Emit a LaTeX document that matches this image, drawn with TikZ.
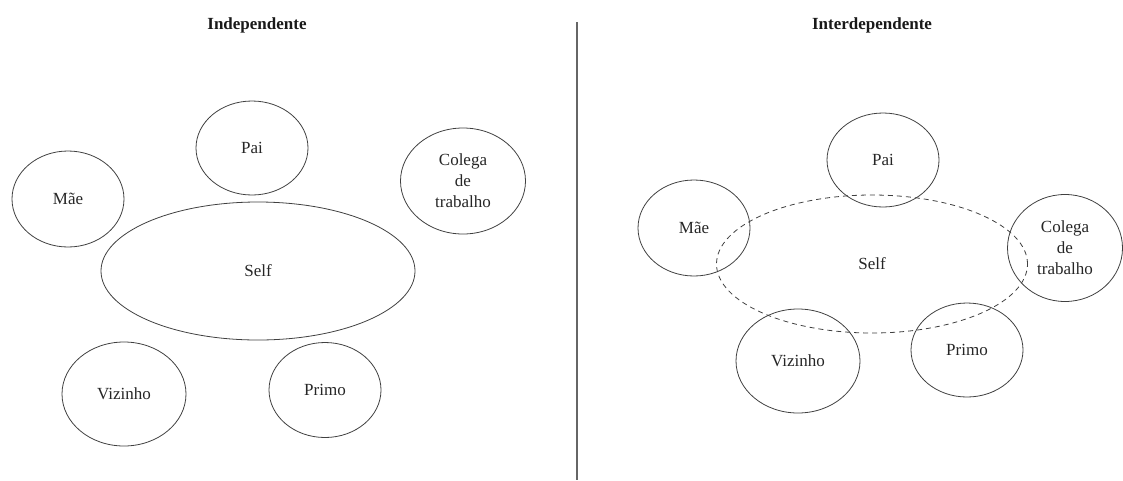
\documentclass[tikz,border=0pt]{standalone}
\usepackage{fontspec}
\setmainfont{Liberation Serif}
\usetikzlibrary{shapes.geometric}

\tikzset{
  pessoa/.style={ellipse, draw=black!75, line width=0.8pt, inner sep=1pt,
    align=center, text=black!85, font=\fontsize{17}{21}\selectfont},
  titulo/.style={text=black!90, font=\fontsize{17}{21}\selectfont\bfseries}
}

\begin{document}
\begin{tikzpicture}[x=1pt,y=-1pt]
        \useasboundingbox (0,0) rectangle (1123,480);

        % titles and separator
        \node[titulo] (t1) at (257,25) {Independente};
        \node[titulo] (t2) at (872,25) {Interdependente};
        \coordinate (sep top) at (577,22);
        \coordinate (sep bot) at (577,480);
        \draw[line width=1.4pt, black!60] (sep top) -- (sep bot);

        % independente
        \begin{scope}[every node/.style={pessoa}]
          \node[minimum width=314pt, minimum height=138pt] (self1) at (258,271) {Self};
          \node[minimum width=112pt, minimum height=94pt]  (pai1)  at (252,148) {Pai};
          \node[minimum width=112pt, minimum height=96pt]  (mae1)  at (68,199)  {Mãe};
          \node[minimum width=125pt, minimum height=106pt] (col1)  at (463,181) {Colega\\de\\trabalho};
          \node[minimum width=124pt, minimum height=104pt] (viz1)  at (124,394) {Vizinho};
          \node[minimum width=112pt, minimum height=95pt]  (pri1)  at (325,390) {Primo};
        \end{scope}

        % interdependente
        \begin{scope}[every node/.style={pessoa}]
          \node[minimum width=311pt, minimum height=138pt, dash pattern=on 5pt off 4pt] (self2) at (872,264) {Self};
          \node[minimum width=112pt, minimum height=94pt]  (pai2)  at (883,160) {Pai};
          \node[minimum width=112pt, minimum height=96pt]  (mae2)  at (694,228) {Mãe};
          \node[minimum width=115pt, minimum height=107pt] (col2)  at (1065,248) {Colega\\de\\trabalho};
          \node[minimum width=124pt, minimum height=104pt] (viz2)  at (798,361) {Vizinho};
          \node[minimum width=112pt, minimum height=94pt]  (pri2)  at (967,350) {Primo};
        \end{scope}

\end{tikzpicture}
\end{document}
